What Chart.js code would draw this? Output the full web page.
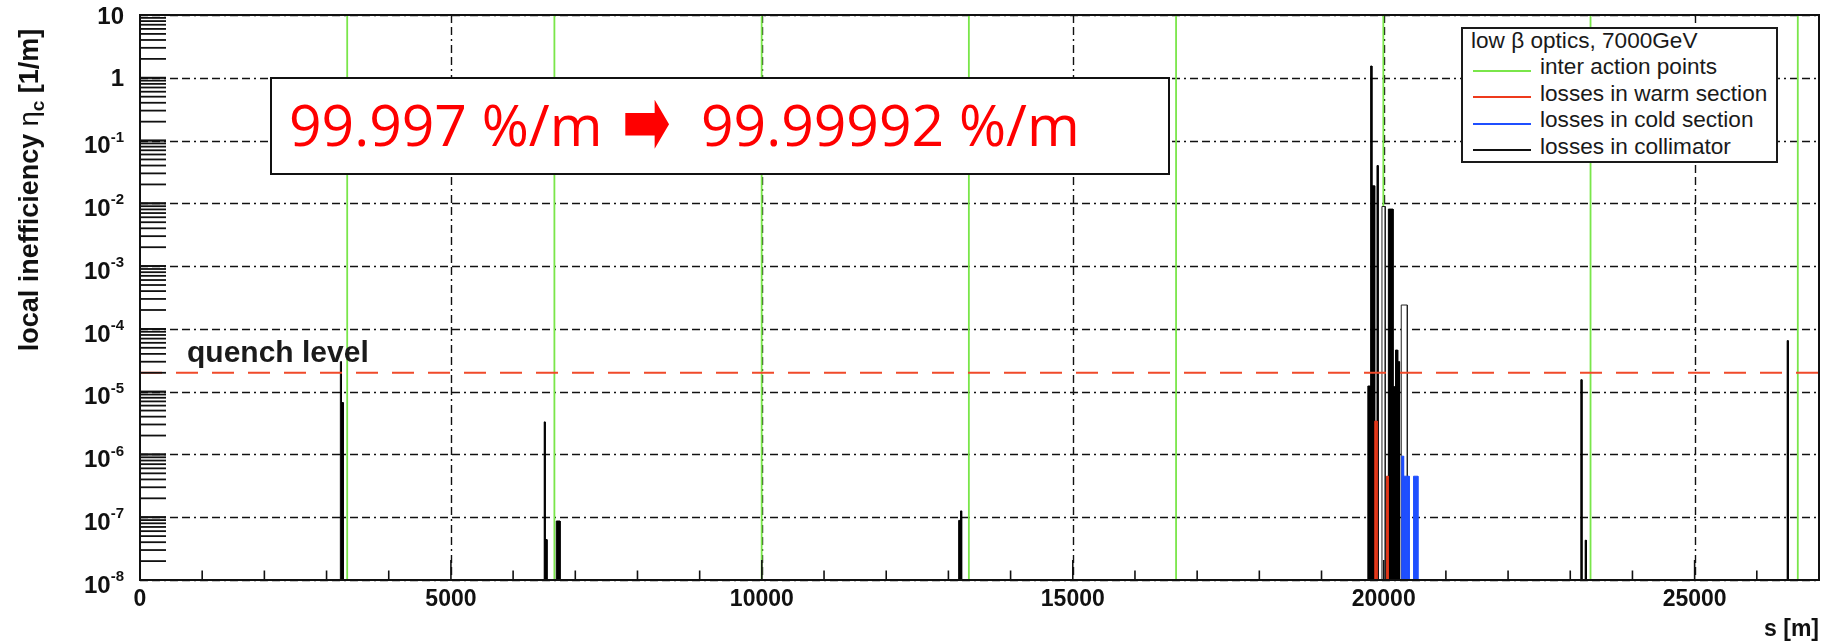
<!DOCTYPE html>
<html>
<head>
<meta charset="utf-8">
<script src="https://cdn.jsdelivr.net/npm/chart.js@4.4.1/dist/chart.umd.min.js"></script>
<style>
  body { margin: 0; background: #fff; }
  #wrap { position: relative; width: 1831px; height: 643px; overflow: hidden; }
  #chart { position: absolute; left: 0; top: 0; }
  .txt { position: absolute; white-space: nowrap; font-family: "Liberation Sans", Arial, sans-serif; }
  #legend { position: absolute; left: 1461px; top: 27px; width: 317px; height: 136px;
            box-sizing: border-box; border: 2px solid #1a1a1a; background: #fff; }
  #legend .txt { font-size: 22.6px; line-height: 22px; color: #1a1a1a; }
  #legend .swatch { position: absolute; height: 2px; width: 58px; }
  #note { position: absolute; left: 270px; top: 77px; width: 900px; height: 98px;
          box-sizing: border-box; border: 2.5px solid #111; background: #fff; }
  #note .txt { font-family: "Open Sans", sans-serif; font-size: 57px; line-height: 57px; color: #ff0000; }
  #note .arrow { font-family: "DejaVu Sans", sans-serif; font-size: 58px; line-height: 58px;
                 transform: scaleY(1.7); transform-origin: 50% 55%; }
  #quench { font-size: 30px; line-height: 30px; font-weight: bold; color: #1a1a1a; }
</style>
</head>
<body>
<div id="wrap">
  <canvas id="chart" width="1831" height="643"></canvas>
  <div id="note">
    <span class="txt" style="left:17px; top:17px;">99.997 %/m</span>
    <span class="txt arrow" style="left:350px; top:15px;">➡</span>
    <span class="txt" style="left:429px; top:17px;">99.99992 %/m</span>
  </div>
  <div class="txt" id="quench" style="left:187px; top:337px;">quench level</div>
  <div id="legend"></div>
</div>
<script>
// ---- data ----
const xMin = 0, xMax = 27000;
const yMin = 1e-8, yMax = 10;
const xTickValues = [0, 5000, 10000, 15000, 20000, 25000];
const xTickLabels = ['0', '5000', '10000', '15000', '20000', '25000'];
const yDecades = [-8, -7, -6, -5, -4, -3, -2, -1, 0, 1];

// interaction points (m)
const ipPositions = [3332, 6664, 9997, 13329, 16661, 19994, 23326, 26659];
const quenchLevel = 2e-5;

// histogram bins: [from (m), to (m), value (1/m)]
const collimatorBins = [
  [3222, 3240, 3.0e-5], [3240, 3268, 6.7e-6],
  [6500, 6515, 3.3e-6], [6515, 6545, 4.4e-8], [6694, 6755, 8.7e-8],
  [13165, 13195, 8.9e-8], [13195, 13213, 1.26e-7],
  [19745, 19790, 1.23e-5], [19790, 19810, 1.54], [19810, 19855, 1.9e-2],
  [19892, 19910, 4.0e-2],
  [20075, 20150, 8.1e-3], [20150, 20190, 1.2e-5], [20190, 20225, 4.6e-5], [20225, 20255, 3.0e-5],
  [23170, 23188, 1.55e-5], [23240, 23258, 4.3e-8],
  [26488, 26505, 6.5e-5]
];
const collimatorOpenBins = [[19972, 20025, 8.9e-3], [20282, 20380, 2.4e-4]];
const warmBins = [[19855, 19895, 3.4e-6], [20045, 20075, 4.5e-7]];
const coldBins = [[20290, 20320, 9.4e-7], [20320, 20410, 4.5e-7], [20480, 20550, 4.5e-7]];

const legendTitle = 'low \u03b2 optics, 7000GeV';
const seriesNames = ['inter action points', 'losses in warm section', 'losses in cold section', 'losses in collimator'];
const seriesColors = ['#7ae64a', '#ee3a1c', '#1f4fff', '#111111'];

// ---- helpers ----
function histPoints(bins) {
  const pts = [];
  bins.forEach(([a, b, v]) => {
    pts.push({x: a, y: yMin}, {x: a, y: v}, {x: b, y: v}, {x: b, y: yMin});
  });
  return pts;
}

function ipPoints(list) {
  const pts = [];
  list.forEach(x => {
    pts.push({x: x, y: yMin}, {x: x, y: yMax}, {x: x, y: null});
  });
  return pts;
}

function histDataset(bins, line, fill) {
  return {
    data: histPoints(bins), borderColor: line, backgroundColor: fill, fill: 'start',
    borderWidth: 1, pointRadius: 0, tension: 0
  };
}

// ---- legend ----
var legend = document.getElementById('legend');
var title = document.createElement('div');
title.className = 'txt';
title.style.left = '8px'; title.style.top = '1px';
title.textContent = legendTitle;
legend.appendChild(title);
seriesNames.forEach((name, i) => {
  var sw = document.createElement('div');
  sw.className = 'swatch';
  sw.style.left = '10px';
  sw.style.top = (41 + i * 26.3) + 'px';
  sw.style.background = seriesColors[i];
  legend.appendChild(sw);
  var t = document.createElement('div');
  t.className = 'txt';
  t.style.left = '77px';
  t.style.top = (27 + i * 26.5) + 'px';
  t.textContent = name;
  legend.appendChild(t);
});

// ---- axes, grid and frame in ROOT style ----
const dash = [8, 4, 8, 4, 2, 4];
const frame = {
  id: 'frame',
  beforeDatasetsDraw(chart) {
    const {ctx, chartArea: a, scales: {x, y}} = chart;
    ctx.save();
    ctx.strokeStyle = '#111';
    ctx.lineWidth = 1.4;
    ctx.setLineDash(dash);
    yDecades.forEach(e => {
      const py = Math.round(y.getPixelForValue(Math.pow(10, e))) + 0.5;
      ctx.beginPath(); ctx.moveTo(a.left, py); ctx.lineTo(a.right, py); ctx.stroke();
    });
    xTickValues.forEach(v => {
      if (v == 0) return;
      const px = Math.round(x.getPixelForValue(v)) + 0.5;
      ctx.beginPath(); ctx.moveTo(px, a.top); ctx.lineTo(px, a.bottom); ctx.stroke();
    });
    ctx.restore();
  },
  afterDatasetsDraw(chart) {
    const {ctx, chartArea: a, scales: {x, y}} = chart;
    ctx.save();
    ctx.strokeStyle = '#111';
    ctx.setLineDash([]);

    // y ticks: decades and 2..9
    ctx.lineWidth = 1.8;
    for (let e = -8; e <= 0; e++) {
      for (let k = 1; k <= 10; k++) {
        const py = y.getPixelForValue(k * Math.pow(10, e));
        ctx.beginPath(); ctx.moveTo(a.left, py); ctx.lineTo(a.left + 26, py); ctx.stroke();
      }
    }
    // x ticks every 1000 m
    ctx.lineWidth = 1.6;
    for (let v = 0; v <= xMax; v += 1000) {
      const px = x.getPixelForValue(v);
      const len = v % 5000 == 0 ? 20 : 9.5;
      ctx.beginPath(); ctx.moveTo(px, a.bottom); ctx.lineTo(px, a.bottom - len); ctx.stroke();
    }

    // frame
    ctx.lineWidth = 2;
    ctx.strokeRect(a.left, a.top, a.right - a.left, a.bottom - a.top);

    // y labels
    ctx.fillStyle = '#111';
    ctx.textBaseline = 'middle';
    ctx.textAlign = 'right';
    const right = a.left - 16;
    yDecades.forEach(e => {
      const py = y.getPixelForValue(Math.pow(10, e));
      if (e >= 0) {
        ctx.font = 'bold 24px "Liberation Sans", Arial, sans-serif';
        ctx.fillText(e == 1 ? '10' : '1', right, py + 2);
      } else {
        const sup = String(e);
        ctx.font = 'bold 15px "Liberation Sans", Arial, sans-serif';
        const w = ctx.measureText(sup).width;
        ctx.fillText(sup, right, py - 3);
        ctx.font = 'bold 24px "Liberation Sans", Arial, sans-serif';
        ctx.fillText('10', right - w, py + 6);
      }
    });

    // x labels
    ctx.textAlign = 'center';
    ctx.font = 'bold 23px "Liberation Sans", Arial, sans-serif';
    xTickValues.forEach((v, i) => {
      ctx.fillText(xTickLabels[i], x.getPixelForValue(v), a.bottom + 20);
    });
    ctx.textAlign = 'right';
    ctx.fillText('s [m]', a.right, a.bottom + 50);

    // y title with subscript
    ctx.translate(38, 190);
    ctx.rotate(-Math.PI / 2);
    ctx.textAlign = 'left';
    ctx.textBaseline = 'alphabetic';
    const parts = [
      ['local inefficiency ', 'bold 27px "Liberation Sans", Arial, sans-serif', 0],
      ['\u03b7', '27px "Liberation Sans", Arial, sans-serif', 0],
      ['c', 'bold 19px "Liberation Sans", Arial, sans-serif', 6],
      [' [1/m]', 'bold 27px "Liberation Sans", Arial, sans-serif', 0]
    ];
    let total = 0;
    parts.forEach(p => { ctx.font = p[1]; total += ctx.measureText(p[0]).width; });
    let cx = -total / 2;
    parts.forEach(p => {
      ctx.font = p[1];
      ctx.fillText(p[0], cx, p[2]);
      cx += ctx.measureText(p[0]).width;
    });
    ctx.restore();
  }
};

var chart = new Chart(document.getElementById('chart'), {
  type: 'line',
  data: {
    datasets: [
      { data: [{x: xMin, y: quenchLevel}, {x: xMax, y: quenchLevel}], borderColor: '#f04a2a',
        borderWidth: 2, borderDash: [22, 14], pointRadius: 0, fill: false },
      histDataset(coldBins, '#1f4fff', '#1f4fff'),
      histDataset(warmBins, '#d8331a', '#e8401c'),
      histDataset(collimatorBins, '#000', '#000'),
      histDataset(collimatorOpenBins, '#222', '#fff'),
      { data: ipPoints(ipPositions), borderColor: seriesColors[0], borderWidth: 1.8,
        pointRadius: 0, fill: false, spanGaps: false }
    ]
  },
  options: {
    responsive: false,
    animation: false,
    layout: { padding: { top: 15, right: 12, left: 0, bottom: 0 } },
    plugins: { legend: { display: false }, tooltip: { enabled: false } },
    scales: {
      x: {
        type: 'linear', min: xMin, max: xMax,
        ticks: { display: false }, grid: { display: false }, border: { display: false },
        afterFit: (s) => { s.height = 63; }
      },
      y: {
        type: 'logarithmic', min: yMin, max: yMax,
        ticks: { display: false }, grid: { display: false }, border: { display: false },
        afterFit: (s) => { s.width = 140; }
      }
    }
  },
  plugins: [frame]
});
</script>
</body>
</html>
